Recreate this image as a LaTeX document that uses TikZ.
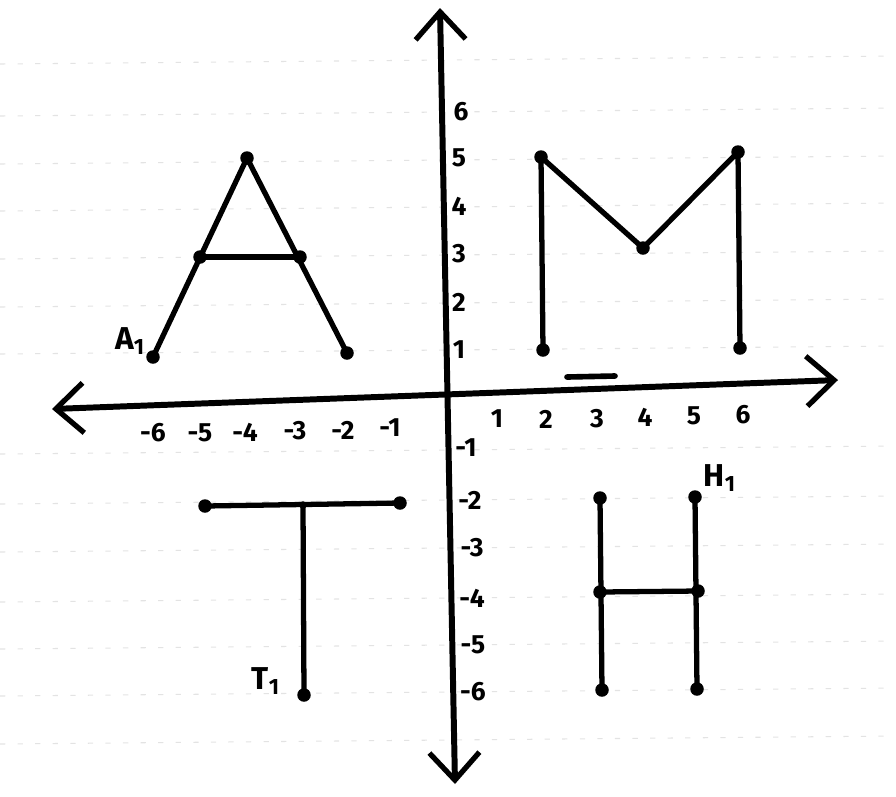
\documentclass[tikz,border=0pt]{standalone}
\usepackage{fontspec}
\setmainfont{Fira Sans}
\usetikzlibrary{arrows.meta}
\begin{document}
\begin{tikzpicture}[x=0.02cm,y=-0.02cm,
  seg/.style={line width=3pt,line cap=round},
  axis/.style={line width=3.4pt,line cap=round,
    arrows={Straight Barb[length=0.55cm,width=1.0cm,line width=3pt]-Straight Barb[length=0.55cm,width=1.0cm,line width=3pt]}},
  dot/.style={circle,fill=black,inner sep=0pt,minimum size=0.27cm},
  sdot/.style={circle,fill=black,inner sep=0pt,minimum size=0.15cm},
  tick/.style={font=\fontsize{15}{15}\selectfont\bfseries},
  lab/.style={font=\fontsize{18}{18}\selectfont\bfseries},
  paper/.style={gray!22,line width=0.6pt,dash pattern=on 3pt off 7pt}]
\useasboundingbox (0,0) rectangle (896,796);
% faint lined-paper background
\foreach \yy in {60,112,160,207,255,303,350,450,500,548,598,645,692,740}
  \draw[paper] (0,\yy+4) -- (896,\yy-4);
% axes
\coordinate (xl) at (52,409);
\coordinate (xr) at (838,380);
\coordinate (yt) at (440,8);
\coordinate (yb) at (455,784);
\draw[axis] (xl) -- (xr);
\draw[axis] (yt) -- (yb);
% tick labels x
\foreach \px/\py/\t in {153/433/-6,200/433/-5,245/432/-4,295/431/-3,343/430/-2,390/428/-1,497/419/1,546/419/2,597/419/3,645/417/4,694/416/5,743/415/6}
  \node[tick] (tx\t) at (\px,\py) {\t};
% tick labels y
\foreach \px/\py/\t in {461/112/6,459/158/5,459/206/4,459/254/3,459/302/2,459/350/1,466/448/-1,470/500/-2,472/548/-3,472/598/-4,473/645/-5,473/692/-6}
  \node[tick] (ty\t) at (\px,\py) {\t};
% A
\node[dot] (a1) at (153,357) {};
\node[dot] (a2) at (247,158) {};
\node[dot] (a3) at (347,353) {};
\node[dot] (a4) at (200,257) {};
\node[dot] (a5) at (300,257) {};
\draw[seg] (a1.center) -- (a2.center) -- (a3.center);
\draw[seg] (a4.center) -- (a5.center);
\node[lab] (la) at (130,341) {A\textsubscript{1}};
% M
\node[dot] (m1) at (543,350) {};
\node[dot] (m2) at (541,157) {};
\node[dot] (m3) at (643,248) {};
\node[dot] (m4) at (738,152) {};
\node[dot] (m5) at (740,348) {};
\draw[seg] (m1.center) -- (m2.center) -- (m3.center) -- (m4.center) -- (m5.center);
% small bar
\coordinate (b1) at (567,377);
\coordinate (b2) at (615,376);
\draw[seg,line width=3.2pt] (b1) -- (b2);
% T
\node[dot] (t1) at (205,506) {};
\node[dot] (t2) at (400,503) {};
\node[sdot] (t3) at (303,505) {};
\node[dot] (t4) at (304,695) {};
\draw[seg] (t1.center) -- (t2.center);
\draw[seg] (t3.center) -- (t4.center);
\node[lab] (lt) at (266,681) {T\textsubscript{1}};
% H
\node[dot] (h1) at (600,498) {};
\node[dot] (h2) at (602,690) {};
\node[dot] (h3) at (695,497) {};
\node[dot] (h4) at (697,689) {};
\node[dot] (h5) at (600,592) {};
\node[dot] (h6) at (698,591) {};
\draw[seg] (h1.center) -- (h2.center);
\draw[seg] (h3.center) -- (h4.center);
\draw[seg] (h5.center) -- (h6.center);
\node[lab] (lh) at (720,478) {H\textsubscript{1}};
\end{tikzpicture}
\end{document}
